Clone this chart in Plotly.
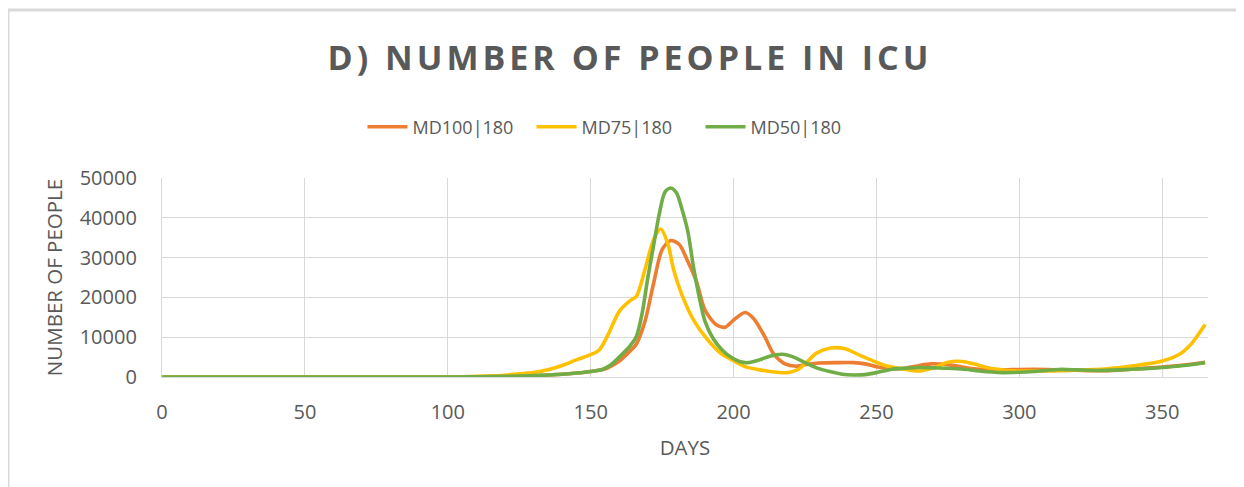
import plotly.graph_objects as go

# ---- data ----
days_md100 = [0, 50, 100, 110, 120, 130, 140, 145, 150, 155, 160, 163, 166, 169, 172, 175, 178, 181, 184, 187,
              190, 194, 197, 200, 204, 207, 211, 214, 218, 222, 226, 230, 236, 242, 246, 250, 255, 260, 265, 269,
              275, 280, 285, 290, 295, 300, 310, 320, 330, 340, 350, 355, 360, 365]
md100 = [0, 0, 0, 50, 150, 350, 700, 1000, 1400, 2000, 4000, 6000, 8300, 14000, 23500, 32000, 34300, 33300, 29000, 24000,
         16800, 13100, 12500, 14300, 16200, 14700, 10000, 5800, 3300, 2700, 3200, 3500, 3600, 3600, 3300, 2600, 2100, 2200, 2900, 3300,
         3100, 2500, 2000, 1800, 1800, 1900, 1900, 1700, 1600, 2000, 2500, 2800, 3200, 3700]

days_md75 = [0, 50, 100, 105, 110, 120, 125, 130, 135, 140, 145, 150, 153, 156, 160, 164, 166, 169, 172, 174.5,
             177, 179, 182, 186, 191, 196, 199, 204, 210, 215, 219, 222, 225, 229, 234, 239, 244, 248, 253, 257,
             261, 265, 270, 275, 280, 284, 289, 295, 300, 310, 320, 330, 340, 350, 356, 360, 365]
md75 = [0, 0, 0, 50, 150, 450, 800, 1100, 1800, 2900, 4300, 5600, 6800, 10500, 16500, 19300, 20300, 27000, 34500, 37200,
        33500, 27000, 20500, 14300, 9300, 5700, 4500, 2600, 1700, 1200, 1100, 1700, 3300, 6000, 7300, 7100, 5500, 4300, 2900, 2300,
        1800, 1500, 2300, 3700, 3900, 3300, 2300, 1700, 1500, 1550, 1700, 2000, 2800, 4000, 5700, 8200, 13200]

days_md50 = [0, 50, 100, 110, 120, 130, 140, 145, 150, 154, 157, 160, 164, 166, 168, 170, 172, 174, 176, 178,
             180, 182, 184, 186, 188, 190, 193, 196, 199, 202, 205, 209, 213, 217, 221, 225, 229, 234, 238, 242,
             246, 250, 255, 260, 265, 270, 275, 280, 286, 294, 300, 305, 314, 320, 327, 335, 344, 350, 356, 360, 365]
md50 = [0, 0, 0, 50, 150, 350, 700, 1000, 1400, 1900, 3000, 5000, 8000, 10200, 16000, 25000, 33000, 41000, 46500, 47500,
        46300, 42000, 36500, 27500, 20000, 14000, 9500, 6800, 5000, 3900, 3600, 4300, 5300, 5700, 5000, 3600, 2300, 1300, 700, 500,
        600, 1100, 1900, 2200, 2400, 2300, 2200, 2000, 1500, 1100, 1200, 1400, 1900, 1800, 1650, 1800, 2100, 2400, 2750, 3100, 3600]

series_names = ["MD100|180", "MD75|180", "MD50|180"]
x_ticks = [0, 50, 100, 150, 200, 250, 300, 350]
y_ticks = [0, 10000, 20000, 30000, 40000, 50000]

colors = ["#ED7D31", "#FFC000", "#70AD47"]
grey = "#595959"
grid = "#D9D9D9"

fig = go.Figure()
for name, xs, ys, c in zip(series_names, [days_md100, days_md75, days_md50], [md100, md75, md50], colors):
    fig.add_trace(go.Scatter(x=xs, y=ys, name=name, mode="lines",
                             line=dict(color=c, width=3.6, shape="spline", smoothing=0.8)))

# page body adds an 8px offset; figure is laid out in page pixels minus 8
OFF = 8
W, H = 1244 - OFF, 487 - OFF
L, R, T, B = 154, 36, 170, 110
pw, ph = W - L - R, H - T - B

def px_x(p):  # page pixel -> paper
    return (p - OFF - L) / pw

def px_y(p):
    return (H - B - (p - OFF)) / ph

fig.update_layout(
    width=W, height=H,
    margin=dict(l=L, r=R, t=T, b=B, autoexpand=False),
    paper_bgcolor="white", plot_bgcolor="white",
    font=dict(family="Open Sans", color=grey),
    title=dict(
        text="<span style='letter-spacing:4px'>D) NUMBER OF PEOPLE IN ICU</span>",
        font=dict(family="Open Sans", size=34, color=grey, weight="bold"),
        x=(630 - OFF) / W, xref="container", xanchor="center",
        y=1 - (58.5 - OFF) / H, yref="container", yanchor="middle",
    ),
    legend=dict(orientation="h", x=px_x(616), xanchor="center", y=px_y(127), yanchor="middle",
                font=dict(family="Open Sans", size=18, color=grey), itemwidth=40,
                entrywidth=114, entrywidthmode="pixels",
                bgcolor="rgba(0,0,0,0)"),
    showlegend=True,
    xaxis=dict(range=[0, 366], tickvals=x_ticks, showgrid=True, gridcolor=grid, gridwidth=1.3,
               zeroline=False, showline=True, linecolor=grid, linewidth=1.3,
               tickfont=dict(family="Open Sans", size=20, color=grey), ticks="", ticklabelstandoff=17,
               title=dict(text="DAYS", font=dict(family="Open Sans", size=20.5, color=grey), standoff=16)),
    yaxis=dict(range=[0, 50000], tickvals=y_ticks, tickformat="d", showgrid=True, gridcolor=grid, gridwidth=1.3,
               zeroline=False, showline=True, linecolor=grid, linewidth=1.3,
               tickfont=dict(family="Open Sans", size=20, color=grey), ticks="", ticklabelstandoff=20,
               title=dict(text="NUMBER OF PEOPLE", font=dict(family="Open Sans", size=20.5, color=grey), standoff=11)),
    shapes=[
        dict(type="line", xref="paper", yref="paper", x0=px_x(OFF), x1=px_x(1250), y0=px_y(10), y1=px_y(10),
             line=dict(color="#D9D9D9", width=3)),
        dict(type="line", xref="paper", yref="paper", x0=px_x(8.7), x1=px_x(8.7), y0=px_y(10), y1=px_y(500),
             line=dict(color="#D9D9D9", width=1.5)),
    ],
)

fig.write_html("out.html")
